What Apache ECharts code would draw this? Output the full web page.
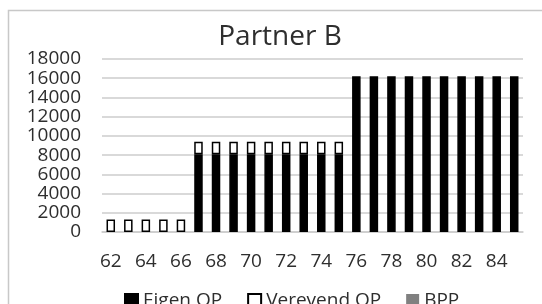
<!DOCTYPE html>
<html>
<head>
<meta charset="utf-8">
<script src="https://cdn.jsdelivr.net/npm/echarts@6/dist/echarts.min.js"></script>
<style>
html,body{margin:0;padding:0;background:#fff;}
#chart{width:542px;height:304px;}
</style>
</head>
<body>
<div id="chart"></div>
<script>
var categories = ['62','63','64','65','66','67','68','69','70','71','72','73','74','75','76','77','78','79','80','81','82','83','84','85'];
var eigenOP = [0,0,0,0,0,8100,8100,8100,8100,8100,8100,8100,8100,8100,16200,16200,16200,16200,16200,16200,16200,16200,16200,16200];
var verevendOP = [1300,1300,1300,1300,1300,1300,1300,1300,1300,1300,1300,1300,1300,1300,0,0,0,0,0,0,0,0,0,0];
var bpp = [0,0,0,0,0,0,0,0,0,0,0,0,0,0,0,0,0,0,0,0,0,0,0,0];
var yTicks = [0,2000,4000,6000,8000,10000,12000,14000,16000,18000];

function nz(arr){ return arr.map(function(v){ return v === 0 ? null : v; }); }

var FONT = '"Open Sans", "Liberation Sans", sans-serif';
var TXT = '#2e2e2e';
var chart = echarts.init(document.getElementById('chart'), null, {renderer:'canvas'});
chart.setOption({
  animation: false,
  backgroundColor: '#ffffff',
  graphic: [
    {type:'rect', shape:{x:8.5, y:10.5, width:600, height:400}, style:{fill:'none', stroke:'#c8c8c8', lineWidth:1.5}, silent:true},
    {type:'text', x:280, y:37, style:{text:'Partner B', align:'center', verticalAlign:'middle', fontFamily:FONT, fontSize:28, fill:TXT}}
  ],
  grid: {left:102, right:19, top:59, bottom:72},
  legend: {
    left: 119, top: 286,
    itemWidth: 13, itemHeight: 13, itemGap: 25,
    icon: 'rect',
    textStyle: {fontFamily: FONT, fontSize: 19, color:TXT},
    data: ['Eigen OP','Verevend OP','BPP']
  },
  xAxis: {
    type: 'category',
    data: categories,
    axisTick: {show:false},
    axisLine: {lineStyle:{color:'#cccccc', width:1.5}},
    axisLabel: {interval:1, fontFamily:FONT, fontSize:19, color:TXT, margin:20}
  },
  yAxis: {
    type: 'value',
    min: yTicks[0], max: yTicks[yTicks.length-1], interval: yTicks[1]-yTicks[0],
    axisLine: {show:false},
    axisTick: {show:false},
    splitLine: {lineStyle:{color:'#cccccc', width:1.5}},
    axisLabel: {fontFamily:FONT, fontSize:19, color:TXT, margin:21,
      formatter: function(v){ return String(v); }}
  },
  series: [
    {name:'Eigen OP', type:'bar', stack:'t', data:nz(eigenOP), barWidth:8.5,
     itemStyle:{color:'#000000', borderColor:'#000000', borderWidth:1.5}},
    {name:'Verevend OP', type:'bar', stack:'t', data:nz(verevendOP), barWidth:8.5,
     itemStyle:{color:'#ffffff', borderColor:'#000000', borderWidth:1.5}},
    {name:'BPP', type:'bar', stack:'t', data:nz(bpp), barWidth:8.5,
     itemStyle:{color:'#808080', borderColor:'#808080', borderWidth:0}}
  ]
});
</script>
</body>
</html>
